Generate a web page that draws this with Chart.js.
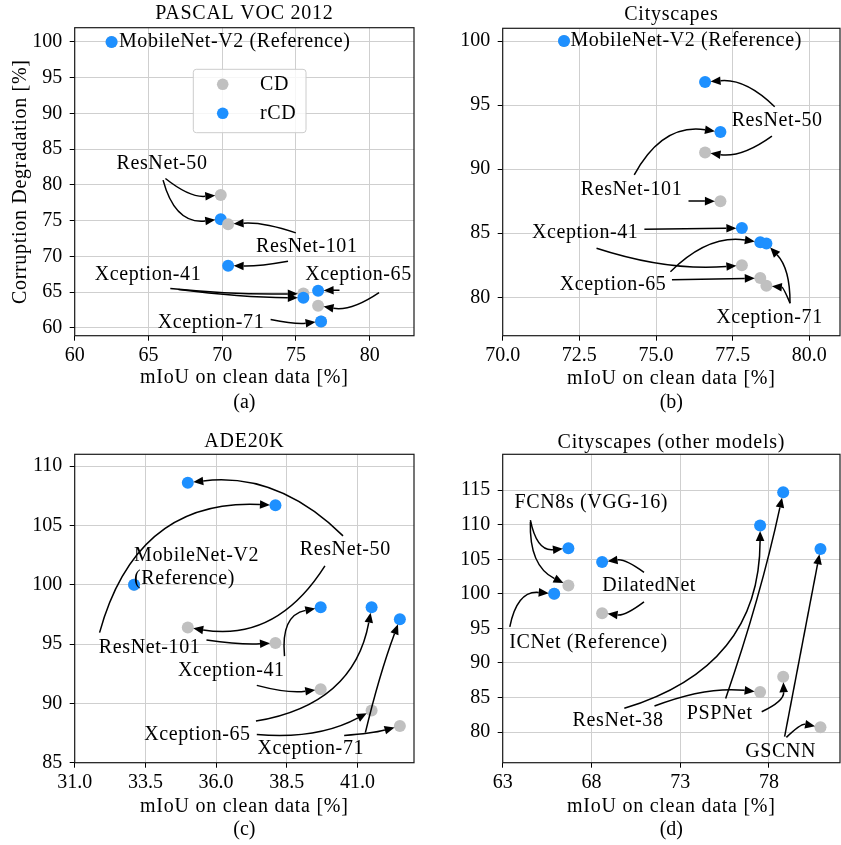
<!DOCTYPE html>
<html>
<head>
<meta charset="utf-8">
<script src="https://cdn.jsdelivr.net/npm/chart.js@4.4.1/dist/chart.umd.min.js"></script>
<style>
  body { margin: 0; background: #fff; overflow: hidden; }
  #wrap { position: relative; width: 841px; height: 845px; overflow: hidden; }
  canvas { position: absolute; }
</style>
</head>
<body>
<div id="wrap">
  <canvas id="ca" width="420" height="420" style="left:0;top:0"></canvas>
  <canvas id="cb" width="426" height="420" style="left:420px;top:0"></canvas>
  <canvas id="cc" width="420" height="425" style="left:0;top:420px"></canvas>
  <canvas id="cd" width="426" height="425" style="left:420px;top:420px"></canvas>
</div>
<script>
// Serien
const seriesNames = ["CD", "rCD"];

// (a) PASCAL VOC 2012
const vocModels = ["MobileNet-V2", "ResNet-50", "ResNet-101", "Xception-41", "Xception-65", "Xception-71"];
const vocMiou = [62.5, 69.9, 70.4, 75.5, 76.5, 76.7];
const vocCD = [100, 78.6, 74.5, 64.8, 63.1, 60.9];
const vocRCD = [100, 75.2, 68.7, 64.2, 65.2, 60.9];
const vocXTicks = ["60", "65", "70", "75", "80"];
const vocYTicks = ["60", "65", "70", "75", "80", "85", "90", "95", "100"];

// (b) Cityscapes
const cityModels = ["MobileNet-V2", "ResNet-50", "ResNet-101", "Xception-41", "Xception-65", "Xception-71"];
const cityMiou = [72.0, 76.6, 77.1, 77.8, 78.4, 78.6];
const cityCD = [100, 91.3, 87.5, 82.5, 81.5, 80.9];
const cityRCD = [100, 96.8, 92.9, 85.4, 84.3, 84.2];
const cityXTicks = ["70.0", "72.5", "75.0", "77.5", "80.0"];
const cityYTicks = ["80", "85", "90", "95", "100"];

// (c) ADE20K
const adeModels = ["MobileNet-V2", "ResNet-50", "ResNet-101", "Xception-41", "Xception-65", "Xception-71"];
const adeMiou = [33.1, 35.0, 38.1, 39.7, 41.5, 42.5];
const adeCD = [100, 96.4, 95.1, 91.2, 89.4, 88.1];
const adeRCD = [100, 108.6, 106.7, 98.1, 98.1, 97.1];
const adeXTicks = ["31.0", "33.5", "36.0", "38.5", "41.0"];
const adeYTicks = ["85", "90", "95", "100", "105", "110"];

// (d) Cityscapes, andere Modelle
const otherModels = ["ICNet", "FCN8s", "DilatedNet", "ResNet-38", "PSPNet", "GSCNN"];
const otherMiou = [65.9, 66.7, 68.6, 77.5, 78.8, 80.9];
const otherCD = [100, 101.2, 97.2, 85.8, 88.0, 80.7];
const otherRCD = [100, 106.6, 104.6, 109.9, 114.7, 106.5];
const otherXTicks = ["63", "68", "73", "78"];
const otherYTicks = ["80", "85", "90", "95", "100", "105", "110", "115"];

// Beschriftungen mit Pfeilen (Textlage in Datenkoordinaten, Ziel = Modellindex)
const vocNotes = [
  { text: "MobileNet-V2 (Reference)", x: 63.0, y: 100, align: "left", arrows: [] },
  { text: "ResNet-50", x: 65.92, y: 83.0, arrows: [
    { to: 1, s: "cd", x: 66.15, y: 80.9, rad: 0.2 },
    { to: 1, s: "rcd", x: 65.99, y: 80.67, rad: 0.43 } ] },
  { text: "ResNet-101", x: 75.73, y: 71.33, arrows: [
    { to: 2, s: "cd", x: 74.99, y: 73.29, rad: 0.1 },
    { to: 2, s: "rcd", x: 74.46, y: 69.33, rad: -0.05 } ] },
  { text: "Xception-41", x: 64.97, y: 67.37, arrows: [
    { to: 3, s: "cd", x: 66.48, y: 65.5, rad: 0.03 },
    { to: 3, s: "rcd", x: 67.04, y: 65.36, rad: 0.03 } ] },
  { text: "Xception-65", x: 79.24, y: 67.37, arrows: [
    { to: 4, s: "rcd", x: 77.95, y: 65.27, rad: 0 },
    { to: 4, s: "cd", x: 80.63, y: 64.94, rad: -0.2 } ] },
  { text: "Xception-71", x: 69.24, y: 60.69, arrows: [
    { to: 5, s: "rcd", x: 73.28, y: 61.16, rad: 0.08 } ] }
];

const cityNotes = [
  { text: "MobileNet-V2 (Reference)", x: 72.21, y: 100, align: "left", arrows: [] },
  { text: "ResNet-50", x: 78.95, y: 93.78, arrows: [
    { to: 1, s: "rcd", x: 78.87, y: 94.88, rad: 0.23 },
    { to: 1, s: "cd", x: 78.78, y: 92.59, rad: -0.2 } ] },
  { text: "ResNet-101", x: 74.2, y: 88.38, arrows: [
    { to: 2, s: "rcd", x: 74.29, y: 89.55, rad: -0.35 },
    { to: 2, s: "cd", x: 76.06, y: 87.52, rad: 0 } ] },
  { text: "Xception-41", x: 72.69, y: 85.0, arrows: [
    { to: 3, s: "rcd", x: 74.62, y: 85.31, rad: 0 },
    { to: 3, s: "cd", x: 73.06, y: 83.83, rad: 0.1 } ] },
  { text: "Xception-65", x: 73.6, y: 80.97, arrows: [
    { to: 4, s: "rcd", x: 75.47, y: 82.0, rad: -0.25 },
    { to: 4, s: "cd", x: 75.52, y: 81.36, rad: 0 } ] },
  { text: "Xception-71", x: 78.7, y: 78.37, arrows: [
    { to: 5, s: "rcd", x: 79.37, y: 79.54, rad: 0.2 },
    { to: 5, s: "cd", x: 79.37, y: 79.54, rad: 0.3 } ] }
];

const adeNotes = [
  { text: "MobileNet-V2\n(Reference)", x: 33.1, y: 101.45, align: "left", arrows: [] },
  { text: "ResNet-50", x: 40.57, y: 102.94, arrows: [
    { to: 1, s: "rcd", x: 40.49, y: 104.12, rad: 0.24 },
    { to: 1, s: "cd", x: 39.85, y: 101.59, rad: -0.33 } ] },
  { text: "ResNet-101", x: 33.65, y: 94.7, arrows: [
    { to: 2, s: "rcd", x: 31.88, y: 95.97, rad: -0.4 },
    { to: 2, s: "cd", x: 35.66, y: 95.34, rad: 0.05 } ] },
  { text: "Xception-41", x: 36.54, y: 92.73, arrows: [
    { to: 3, s: "rcd", x: 38.42, y: 93.99, rad: -0.45 },
    { to: 3, s: "cd", x: 37.44, y: 91.52, rad: 0.1 } ] },
  { text: "Xception-65", x: 35.34, y: 87.38, arrows: [
    { to: 4, s: "rcd", x: 37.41, y: 88.51, rad: 0.35 },
    { to: 4, s: "cd", x: 37.44, y: 87.38, rad: 0.15 } ] },
  { text: "Xception-71", x: 39.35, y: 86.18, arrows: [
    { to: 5, s: "rcd", x: 41.28, y: 87.53, rad: -0.03 },
    { to: 5, s: "cd", x: 40.53, y: 87.3, rad: 0.05 } ] }
];

const otherNotes = [
  { text: "FCN8s (VGG-16)", x: 67.99, y: 113.16, arrows: [
    { to: 1, s: "rcd", x: 64.56, y: 110.66, rad: 0.45 },
    { to: 1, s: "cd", x: 64.56, y: 110.42, rad: 0.32 } ] },
  { text: "ICNet (Reference)", x: 67.83, y: 92.91, arrows: [
    { to: 0, s: "rcd", x: 63.4, y: 95.23, rad: -0.45 } ] },
  { text: "DilatedNet", x: 71.25, y: 101.16, arrows: [
    { to: 2, s: "rcd", x: 70.96, y: 103.1, rad: 0.2 },
    { to: 2, s: "cd", x: 70.96, y: 98.84, rad: -0.2 } ] },
  { text: "ResNet-38", x: 69.5, y: 81.63, arrows: [
    { to: 3, s: "rcd", x: 69.85, y: 83.43, rad: 0.37 },
    { to: 3, s: "cd", x: 71.55, y: 83.76, rad: -0.12 } ] },
  { text: "PSPNet", x: 75.22, y: 82.7, arrows: [
    { to: 4, s: "rcd", x: 75.56, y: 84.87, rad: 0.03 },
    { to: 4, s: "cd", x: 77.59, y: 82.94, rad: 0.33 } ] },
  { text: "GSCNN", x: 78.66, y: 77.15, arrows: [
    { to: 5, s: "rcd", x: 78.88, y: 79.32, rad: 0 },
    { to: 5, s: "cd", x: 78.98, y: 79.23, rad: -0.26 } ] }
];

const FONT = "'Liberation Serif', 'Times New Roman', serif";
const CD_COLOR = "#c0c0c0";
const RCD_COLOR = "#1e90ff";
const GRID = "#cfcfcf";

Chart.defaults.font.family = FONT;
Chart.defaults.font.size = 20;
Chart.defaults.color = "#000";

// Pfeil wie matplotlib arc3
function arrow(ctx, x0, y0, x1, y1, rad) {
  const dx = x1 - x0, dy = y1 - y0;
  const cx = (x0 + x1) / 2 - rad * dy, cy = (y0 + y1) / 2 + rad * dx;
  let ux = x1 - cx, uy = y1 - cy;
  const len = Math.hypot(ux, uy) || 1;
  ux /= len; uy /= len;
  const tipX = x1 - ux * 5.5, tipY = y1 - uy * 5.5;
  const bx = tipX - ux * 10, by = tipY - uy * 10;
  ctx.beginPath();
  ctx.moveTo(x0, y0);
  ctx.quadraticCurveTo(cx, cy, bx, by);
  ctx.stroke();
  ctx.beginPath();
  ctx.moveTo(tipX, tipY);
  ctx.lineTo(bx - uy * 4.3, by + ux * 4.3);
  ctx.lineTo(bx + uy * 4.3, by - ux * 4.3);
  ctx.closePath();
  ctx.fill();
}

function axis(min, max, labels, size, isX, pad) {
  return {
    type: "linear", min, max,
    afterBuildTicks: s => { s.ticks = labels.map(l => ({ value: Number(l) })); },
    afterFit: s => { if (isX) s.height = size; else s.width = size; },
    ticks: { autoSkip: false, maxRotation: 0, padding: pad, color: "#000",
      callback: (v, i) => labels[i] },
    grid: { color: GRID, lineWidth: 1, tickColor: "#000", tickLength: 5, tickWidth: 1 },
    border: { display: false }
  };
}

function decor(p) {
  return {
    id: "decor",
    afterDraw(chart) {
      const ctx = chart.ctx, a = chart.chartArea;
      const xs = chart.scales.x, ys = chart.scales.y;
      ctx.save();
      ctx.strokeStyle = "#1a1a1a";
      ctx.lineWidth = 1.2;
      ctx.strokeRect(a.left, a.top, a.right - a.left, a.bottom - a.top);

      ctx.strokeStyle = "#000";
      ctx.fillStyle = "#000";
      ctx.lineWidth = 1.5;
      p.notes.forEach(n => n.arrows.forEach(ar => {
        const tx = p.miou[ar.to];
        const ty = (ar.s === "cd" ? p.cd : p.rcd)[ar.to];
        arrow(ctx, xs.getPixelForValue(ar.x), ys.getPixelForValue(ar.y),
          xs.getPixelForValue(tx), ys.getPixelForValue(ty), ar.rad);
      }));

      ctx.font = "20px " + FONT;
      ctx.letterSpacing = "0.6px";
      ctx.textBaseline = "middle";
      p.notes.forEach(n => {
        ctx.textAlign = n.align || "center";
        const lines = n.text.split("\n");
        const x = xs.getPixelForValue(n.x), y = ys.getPixelForValue(n.y);
        lines.forEach((l, i) => ctx.fillText(l, x, y + (i - (lines.length - 1) / 2) * 23.3));
      });

      const cx = (a.left + a.right) / 2;
      ctx.textAlign = "center";
      ctx.letterSpacing = "0.75px";
      ctx.fillText(p.title, cx, p.titleY);
      ctx.fillText("mIoU on clean data [%]", cx, p.xTitleY);
      ctx.letterSpacing = "0px";
      ctx.fillText(p.caption, cx, p.captionY);

      if (p.yTitle) {
        ctx.save();
        ctx.letterSpacing = "0.7px";
        ctx.translate(20.7, (a.top + a.bottom) / 2);
        ctx.rotate(-Math.PI / 2);
        ctx.fillText(p.yTitle, 0, 0);
        ctx.restore();
      }

      if (p.legend) {
        const lx = a.left + 118.6, ly = a.top + 41.6;
        ctx.beginPath();
        ctx.roundRect(lx, ly, 112.7, 63.4, 3);
        ctx.fillStyle = "rgba(255,255,255,0.8)";
        ctx.fill();
        ctx.strokeStyle = "#cccccc";
        ctx.lineWidth = 1;
        ctx.stroke();
        ctx.letterSpacing = "0.6px";
        [CD_COLOR, RCD_COLOR].forEach((c, i) => {
          const yy = ly + 15 + i * 29;
          ctx.beginPath();
          ctx.arc(lx + 29.4, yy, 5.8, 0, Math.PI * 2);
          ctx.fillStyle = c;
          ctx.fill();
          ctx.fillStyle = "#000";
          ctx.textAlign = "left";
          ctx.fillText(seriesNames[i], lx + 66.7, yy);
        });
      }
      ctx.restore();
    }
  };
}

function makePanel(p) {
  const datasets = p.miou.map((x, i) => ({
    label: p.models[i],
    data: [{ x, y: p.cd[i] }, { x, y: p.rcd[i] }],
    pointBackgroundColor: [CD_COLOR, RCD_COLOR],
    pointBorderWidth: 0,
    pointRadius: 6,
    pointHoverRadius: 6,
    order: p.miou.length - i
  }));
  new Chart(document.getElementById(p.id), {
    type: "scatter",
    data: { datasets },
    options: {
      responsive: false,
      animation: false,
      devicePixelRatio: 1,
      layout: { padding: { top: p.top, right: p.right, left: 0, bottom: 0 } },
      scales: {
        x: axis(p.xMin, p.xMax, p.xTicks, p.bottom, true, 3),
        y: axis(p.yMin, p.yMax, p.yTicks, p.left, false, 7.5)
      },
      plugins: { legend: { display: false }, tooltip: { enabled: false } },
      events: []
    },
    plugins: [decor(p)]
  });
}

makePanel({ id: "ca", models: vocModels, miou: vocMiou, cd: vocCD, rcd: vocRCD,
  xTicks: vocXTicks, yTicks: vocYTicks, xMin: 60, xMax: 83, yMin: 58.9, yMax: 102,
  left: 74.7, top: 27.7, right: 1.7, bottom: 84.3,
  title: "PASCAL VOC 2012", caption: "(a)", titleY: 14, xTitleY: 378, captionY: 403,
  yTitle: "Corruption Degradation [%]", legend: true, notes: vocNotes });

makePanel({ id: "cb", models: cityModels, miou: cityMiou, cd: cityCD, rcd: cityRCD,
  xTicks: cityXTicks, yTicks: cityYTicks, xMin: 70, xMax: 81, yMin: 77, yMax: 101,
  left: 82.7, top: 28.3, right: 0, bottom: 84.3,
  title: "Cityscapes", caption: "(b)", titleY: 15, xTitleY: 379, captionY: 403,
  notes: cityNotes });

makePanel({ id: "cc", models: adeModels, miou: adeMiou, cd: adeCD, rcd: adeRCD,
  xTicks: adeXTicks, yTicks: adeYTicks, xMin: 31, xMax: 43, yMin: 85, yMax: 111,
  left: 74.7, top: 34.3, right: 1.7, bottom: 82.3,
  title: "ADE20K", caption: "(c)", titleY: 21.7, xTitleY: 386.7, captionY: 409.3,
  notes: adeNotes });

makePanel({ id: "cd", models: otherModels, miou: otherMiou, cd: otherCD, rcd: otherRCD,
  xTicks: otherXTicks, yTicks: otherYTicks, xMin: 63, xMax: 82, yMin: 75.56, yMax: 120.2,
  left: 82.7, top: 34.3, right: 0, bottom: 82.3,
  title: "Cityscapes (other models)", caption: "(d)", titleY: 22.7, xTitleY: 386.7, captionY: 409.3,
  notes: otherNotes });
</script>
</body>
</html>
